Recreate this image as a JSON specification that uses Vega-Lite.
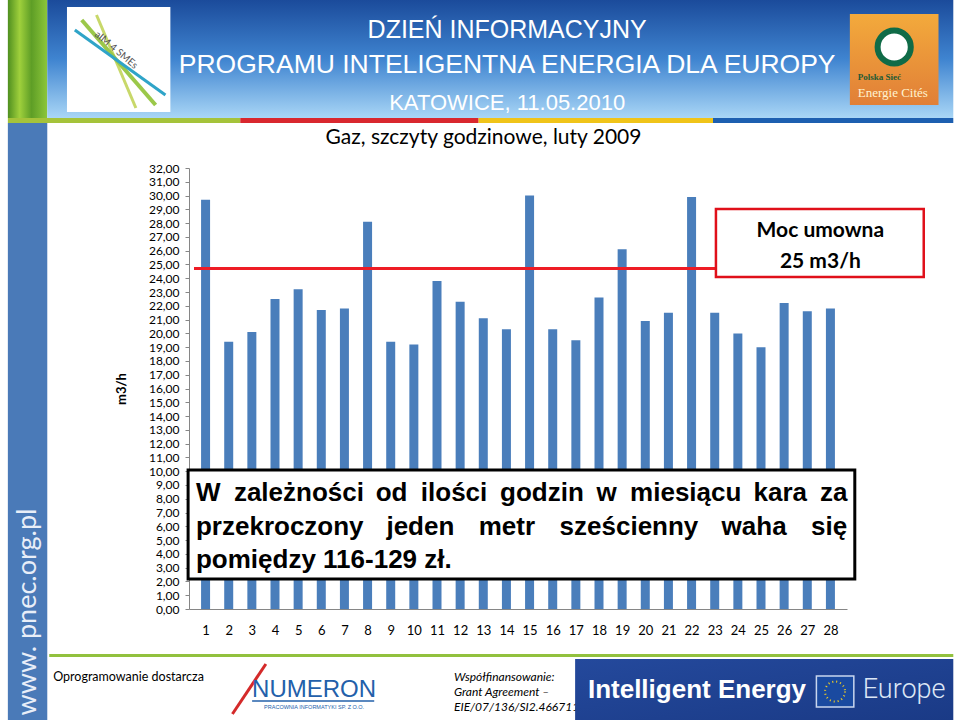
{
  "$schema": "https://vega.github.io/schema/vega-lite/v6.json",
  "width": 658,
  "height": 441,
  "autosize": {"type": "none"},
  "padding": {"left": 189, "top": 168, "right": 113, "bottom": 111},
  "background": "white",
  "config": {
    "view": {"stroke": null},
    "axis": {"labelFont": "Lato", "labelFontSize": 13, "labelColor": "#000000", "titleFont": "Lato", "titleColor": "#000000"}
  },
  "data": {"values": [{}]},
  "layer": [
    {"mark": {"type": "rect", "color": {"gradient": "linear", "x1": 0, "y1": 0, "x2": 1, "y2": 0, "stops": [{"offset": 0, "color": "#4f8f1f"}, {"offset": 0.3, "color": "#9fd03c"}, {"offset": 0.6, "color": "#5e9e26"}, {"offset": 1, "color": "#8cc63a"}]}},
     "encoding": {"x": {"datum": -7.543}, "x2": {"datum": -5.84}, "y": {"datum": 44.19}, "y2": {"datum": 35.628}}},
    {"mark": {"type": "rect", "color": "#4a7ab8"},
     "encoding": {"x": {"datum": -7.543}, "x2": {"datum": -5.84}, "y": {"datum": 35.265}, "y2": {"datum": -8.054}}},
    {"mark": {"type": "rect", "color": {"gradient": "linear", "x1": 0, "y1": 0, "x2": 0, "y2": 1, "stops": [{"offset": 0, "color": "#1b4b9b"}, {"offset": 0.5, "color": "#3f84d0"}, {"offset": 1, "color": "#a9d6f6"}]}},
     "encoding": {"x": {"datum": -5.84}, "x2": {"datum": 33.309}, "y": {"datum": 44.19}, "y2": {"datum": 35.628}}},
    {"mark": {"type": "rect", "color": "#a5c33a"},
     "encoding": {"x": {"datum": -7.543}, "x2": {"datum": 2.5}, "y": {"datum": 35.628}, "y2": {"datum": 35.265}}},
    {"mark": {"type": "rect", "color": "#d9272e"},
     "encoding": {"x": {"datum": 2.5}, "x2": {"datum": 12.798}, "y": {"datum": 35.628}, "y2": {"datum": 35.265}}},
    {"mark": {"type": "rect", "color": "#f0c419"},
     "encoding": {"x": {"datum": 12.798}, "x2": {"datum": 22.926}, "y": {"datum": 35.628}, "y2": {"datum": 35.265}}},
    {"mark": {"type": "rect", "color": "#1d5fb0"},
     "encoding": {"x": {"datum": 22.926}, "x2": {"datum": 33.309}, "y": {"datum": 35.628}, "y2": {"datum": 35.265}}},
    {"mark": {"type": "rect", "color": "#ffffff"},
     "encoding": {"x": {"datum": -4.989}, "x2": {"datum": -0.521}, "y": {"datum": 43.683}, "y2": {"datum": 36.063}}},
    {"mark": {"type": "rule", "color": "#c8d86a", "strokeWidth": 3},
     "encoding": {"x": {"datum": -3.713}, "x2": {"datum": -2.011}, "y": {"datum": 43.102}, "y2": {"datum": 36.354}}},
    {"mark": {"type": "rule", "color": "#9bc84a", "strokeWidth": 4},
     "encoding": {"x": {"datum": -4.351}, "x2": {"datum": -1.16}, "y": {"datum": 42.74}, "y2": {"datum": 36.571}}},
    {"mark": {"type": "rule", "color": "#2fa4c8", "strokeWidth": 3},
     "encoding": {"x": {"datum": -4.649}, "x2": {"datum": -0.734}, "y": {"datum": 42.014}, "y2": {"datum": 37.297}}},
    {"mark": {"type": "text", "text": "aIM 4 SMEs", "font": "Lato", "fontSize": 10, "color": "#555555", "angle": 40},
     "encoding": {"x": {"datum": -2.862}, "y": {"datum": 40.562}}},
    {"mark": {"type": "text", "text": "DZIEŃ INFORMACYJNY", "font": "Liberation Sans", "fontSize": 25, "color": "#ffffff"},
     "encoding": {"x": {"datum": 14.032}, "y": {"datum": 42.014}}},
    {"mark": {"type": "text", "text": "PROGRAMU INTELIGENTNA ENERGIA DLA EUROPY", "font": "Liberation Sans", "fontSize": 26.5, "color": "#ffffff"},
     "encoding": {"x": {"datum": 14.032}, "y": {"datum": 39.474}}},
    {"mark": {"type": "text", "text": "KATOWICE, 11.05.2010", "font": "Liberation Sans", "fontSize": 22, "color": "#ffffff"},
     "encoding": {"x": {"datum": 14.032}, "y": {"datum": 36.717}}},
    {"mark": {"type": "rect", "color": {"gradient": "linear", "x1": 0, "y1": 0, "x2": 0, "y2": 1, "stops": [{"offset": 0, "color": "#f3aa3c"}, {"offset": 1, "color": "#e17f37"}]}},
     "encoding": {"x": {"datum": 28.84}, "x2": {"datum": 32.67}, "y": {"datum": 43.175}, "y2": {"datum": 36.571}}},
    {"mark": {"type": "point", "shape": "circle", "filled": true, "fill": "#ffffff", "stroke": "#0f6b47", "strokeWidth": 6, "size": 1100, "opacity": 1},
     "encoding": {"x": {"datum": 30.755}, "y": {"datum": 40.78}}},
    {"mark": {"type": "text", "text": "Polska Sieć", "font": "Liberation Serif", "fontSize": 9, "fontWeight": "bold", "color": "#1d5b35", "align": "left"},
     "encoding": {"x": {"datum": 29.181}, "y": {"datum": 38.6}}},
    {"mark": {"type": "text", "text": "Energie Cités", "font": "Liberation Serif", "fontSize": 13, "color": "#fff3d0", "align": "left"},
     "encoding": {"x": {"datum": 29.181}, "y": {"datum": 37.45}}},
    {"mark": {"type": "text", "text": "Gaz, szczyty godzinowe, luty 2009", "font": "Lato", "fontSize": 21, "color": "#000000"},
     "encoding": {"x": {"datum": 13.011}, "y": {"datum": 34.177}}},
    {"data": {"values": [
      {"dzien": 1, "m3h": 29.7}, {"dzien": 2, "m3h": 19.4}, {"dzien": 3, "m3h": 20.1}, {"dzien": 4, "m3h": 22.5},
      {"dzien": 5, "m3h": 23.2}, {"dzien": 6, "m3h": 21.7}, {"dzien": 7, "m3h": 21.8}, {"dzien": 8, "m3h": 28.1},
      {"dzien": 9, "m3h": 19.4}, {"dzien": 10, "m3h": 19.2}, {"dzien": 11, "m3h": 23.8}, {"dzien": 12, "m3h": 22.3},
      {"dzien": 13, "m3h": 21.1}, {"dzien": 14, "m3h": 20.3}, {"dzien": 15, "m3h": 30.0}, {"dzien": 16, "m3h": 20.3},
      {"dzien": 17, "m3h": 19.5}, {"dzien": 18, "m3h": 22.6}, {"dzien": 19, "m3h": 26.1}, {"dzien": 20, "m3h": 20.9},
      {"dzien": 21, "m3h": 21.5}, {"dzien": 22, "m3h": 29.9}, {"dzien": 23, "m3h": 21.5}, {"dzien": 24, "m3h": 20.0},
      {"dzien": 25, "m3h": 19.0}, {"dzien": 26, "m3h": 22.2}, {"dzien": 27, "m3h": 21.6}, {"dzien": 28, "m3h": 21.8}
     ]},
     "mark": {"type": "bar", "size": 9, "color": "#4a7ebb"},
     "encoding": {
       "x": {"field": "dzien", "type": "quantitative",
             "scale": {"domain": [0.5, 28.5], "nice": false, "zero": false},
             "axis": {"title": null, "values": [1,2,3,4,5,6,7,8,9,10,11,12,13,14,15,16,17,18,19,20,21,22,23,24,25,26,27,28], "tickCount": 60, "format": "d", "grid": false, "ticks": false, "labelPadding": 15, "domainColor": "#868686", "labelFlush": false, "labelOverlap": false}},
       "y": {"field": "m3h", "type": "quantitative",
             "scale": {"domain": [0, 32], "nice": false},
             "axis": {"title": "m3/h", "titleFontWeight": "bold", "titleFontSize": 13, "titlePadding": 20,
                      "values": [0,1,2,3,4,5,6,7,8,9,10,11,12,13,14,15,16,17,18,19,20,21,22,23,24,25,26,27,28,29,30,31,32],
                      "tickCount": 60, "labelFontSize": 12,
                      "labelExpr": "replace(format(datum.value, '.2f'), '.', ',')",
                      "gridColor": "#a6a6a6", "tickColor": "#868686", "tickSize": 4, "labelPadding": 6, "domainColor": "#868686", "labelFlush": false, "labelOverlap": false}}
     }},
    {"mark": {"type": "rule", "color": "#ee1c25", "strokeWidth": 3},
     "encoding": {"x": {"datum": 0.5}, "x2": {"datum": 23.181}, "y": {"datum": 24.7}}},
    {"mark": {"type": "rect", "fill": "#ffffff", "stroke": "#e0101a", "strokeWidth": 2.5},
     "encoding": {"x": {"datum": 23.053}, "x2": {"datum": 32.032}, "y": {"datum": 29.025}, "y2": {"datum": 24.091}}},
    {"mark": {"type": "text", "text": "Moc umowna", "font": "Lato", "fontSize": 21, "fontWeight": "bold", "color": "#000000"},
     "encoding": {"x": {"datum": 27.564}, "y": {"datum": 27.429}}},
    {"mark": {"type": "text", "text": "25 m3/h", "font": "Lato", "fontSize": 21, "fontWeight": "bold", "color": "#000000"},
     "encoding": {"x": {"datum": 27.564}, "y": {"datum": 25.179}}},
    {"mark": {"type": "rect", "fill": "#ffffff", "stroke": "#000000", "strokeWidth": 3},
     "encoding": {"x": {"datum": 0.245}, "x2": {"datum": 29.053}, "y": {"datum": 10.086}, "y2": {"datum": 2.177}}},
    {"mark": {"type": "text", "text": "W", "font": "Liberation Sans", "fontSize": 26, "fontWeight": "bold", "align": "left", "color": "#000000"}, "encoding": {"x": {"datum": 0.585}, "y": {"datum": 8.417}}},
    {"mark": {"type": "text", "text": "zależności", "font": "Liberation Sans", "fontSize": 26, "fontWeight": "bold", "align": "left", "color": "#000000"}, "encoding": {"x": {"datum": 2.223}, "y": {"datum": 8.417}}},
    {"mark": {"type": "text", "text": "od", "font": "Liberation Sans", "fontSize": 26, "fontWeight": "bold", "align": "left", "color": "#000000"}, "encoding": {"x": {"datum": 8.351}, "y": {"datum": 8.417}}},
    {"mark": {"type": "text", "text": "ilości", "font": "Liberation Sans", "fontSize": 26, "fontWeight": "bold", "align": "left", "color": "#000000"}, "encoding": {"x": {"datum": 10.3}, "y": {"datum": 8.417}}},
    {"mark": {"type": "text", "text": "godzin", "font": "Liberation Sans", "fontSize": 26, "fontWeight": "bold", "align": "left", "color": "#000000"}, "encoding": {"x": {"datum": 13.726}, "y": {"datum": 8.417}}},
    {"mark": {"type": "text", "text": "w", "font": "Liberation Sans", "fontSize": 26, "fontWeight": "bold", "align": "left", "color": "#000000"}, "encoding": {"x": {"datum": 17.887}, "y": {"datum": 8.417}}},
    {"mark": {"type": "text", "text": "miesiącu", "font": "Liberation Sans", "fontSize": 26, "fontWeight": "bold", "align": "left", "color": "#000000"}, "encoding": {"x": {"datum": 19.343}, "y": {"datum": 8.417}}},
    {"mark": {"type": "text", "text": "kara", "font": "Liberation Sans", "fontSize": 26, "fontWeight": "bold", "align": "left", "color": "#000000"}, "encoding": {"x": {"datum": 24.674}, "y": {"datum": 8.417}}},
    {"mark": {"type": "text", "text": "za", "font": "Liberation Sans", "fontSize": 26, "fontWeight": "bold", "align": "left", "color": "#000000"}, "encoding": {"x": {"datum": 27.547}, "y": {"datum": 8.417}}},
    {"mark": {"type": "text", "text": "przekroczony", "font": "Liberation Sans", "fontSize": 26, "fontWeight": "bold", "align": "left", "color": "#000000"}, "encoding": {"x": {"datum": 0.585}, "y": {"datum": 5.95}}},
    {"mark": {"type": "text", "text": "jeden", "font": "Liberation Sans", "fontSize": 26, "fontWeight": "bold", "align": "left", "color": "#000000"}, "encoding": {"x": {"datum": 8.815}, "y": {"datum": 5.95}}},
    {"mark": {"type": "text", "text": "metr", "font": "Liberation Sans", "fontSize": 26, "fontWeight": "bold", "align": "left", "color": "#000000"}, "encoding": {"x": {"datum": 12.802}, "y": {"datum": 5.95}}},
    {"mark": {"type": "text", "text": "sześcienny", "font": "Liberation Sans", "fontSize": 26, "fontWeight": "bold", "align": "left", "color": "#000000"}, "encoding": {"x": {"datum": 16.296}, "y": {"datum": 5.95}}},
    {"mark": {"type": "text", "text": "waha", "font": "Liberation Sans", "fontSize": 26, "fontWeight": "bold", "align": "left", "color": "#000000"}, "encoding": {"x": {"datum": 23.296}, "y": {"datum": 5.95}}},
    {"mark": {"type": "text", "text": "się", "font": "Liberation Sans", "fontSize": 26, "fontWeight": "bold", "align": "left", "color": "#000000"}, "encoding": {"x": {"datum": 27.16}, "y": {"datum": 5.95}}},
    {"mark": {"type": "text", "text": "pomiędzy 116-129 zł.", "font": "Liberation Sans", "fontSize": 26, "fontWeight": "bold", "align": "left", "color": "#000000"}, "encoding": {"x": {"datum": 0.585}, "y": {"datum": 3.556}}},
    {"mark": {"type": "text", "text": "www. pnec.org.pl", "font": "Lato", "fontSize": 27, "color": "#e8eef8", "angle": 270},
     "encoding": {"x": {"datum": -6.691}, "y": {"datum": -0.218}}},
    {"mark": {"type": "rect", "color": "#92c13e"},
     "encoding": {"x": {"datum": -5.755}, "x2": {"datum": 33.309}, "y": {"datum": -3.265}, "y2": {"datum": -3.483}}},
    {"mark": {"type": "text", "text": "Oprogramowanie dostarcza", "font": "Lato", "fontSize": 12.5, "align": "left", "color": "#000000"},
     "encoding": {"x": {"datum": -5.585}, "y": {"datum": -4.934}}},
    {"mark": {"type": "rule", "color": "#d42a2a", "strokeWidth": 3},
     "encoding": {"x": {"datum": 2.16}, "x2": {"datum": 3.606}, "y": {"datum": -7.62}, "y2": {"datum": -3.99}}},
    {"mark": {"type": "text", "text": "NUMERON", "font": "Liberation Sans", "fontSize": 24, "align": "left", "color": "#2360aa"},
     "encoding": {"x": {"datum": 3.011}, "y": {"datum": -5.878}}},
    {"mark": {"type": "rule", "color": "#2360aa", "strokeWidth": 1.5},
     "encoding": {"x": {"datum": 3.011}, "x2": {"datum": 8.287}, "y": {"datum": -6.676}}},
    {"mark": {"type": "text", "text": "PRACOWNIA INFORMATYKI SP. Z O.O.", "font": "Liberation Sans", "fontSize": 5.5, "color": "#2360aa"},
     "encoding": {"x": {"datum": 5.691}, "y": {"datum": -7.111}}},
    {"mark": {"type": "text", "text": "Współfinansowanie:", "font": "Lato", "fontSize": 12, "fontStyle": "italic", "align": "left", "color": "#000000"},
     "encoding": {"x": {"datum": 11.734}, "y": {"datum": -4.934}}},
    {"mark": {"type": "text", "text": "Grant Agreement –", "font": "Lato", "fontSize": 12, "fontStyle": "italic", "align": "left", "color": "#000000"},
     "encoding": {"x": {"datum": 11.734}, "y": {"datum": -6.023}}},
    {"mark": {"type": "text", "text": "EIE/07/136/SI2.466711", "font": "Lato", "fontSize": 12, "fontStyle": "italic", "align": "left", "color": "#000000"},
     "encoding": {"x": {"datum": 11.734}, "y": {"datum": -7.111}}},
    {"mark": {"type": "rect", "color": {"gradient": "linear", "x1": 0, "y1": 0, "x2": 1, "y2": 1, "stops": [{"offset": 0, "color": "#24499c"}, {"offset": 1, "color": "#1a3a86"}]}},
     "encoding": {"x": {"datum": 16.968}, "x2": {"datum": 33.309}, "y": {"datum": -3.628}, "y2": {"datum": -8.054}}},
    {"mark": {"type": "text", "text": "Intelligent Energy", "font": "Liberation Sans", "fontSize": 26, "fontWeight": "bold", "align": "left", "color": "#ffffff"},
     "encoding": {"x": {"datum": 17.521}, "y": {"datum": -5.878}}},
    {"mark": {"type": "rect", "fill": "#1a4aa0", "stroke": "#c9d6ee", "strokeWidth": 1.5},
     "encoding": {"x": {"datum": 27.394}, "x2": {"datum": 29.011}, "y": {"datum": -4.862}, "y2": {"datum": -7.111}}},
    {"mark": {"type": "point", "shape": "circle", "filled": false, "stroke": "#f5d020", "strokeWidth": 2, "strokeDash": [1, 3], "size": 400, "opacity": 1},
     "encoding": {"x": {"datum": 28.2}, "y": {"datum": -5.99}}},
    {"mark": {"type": "text", "text": "Europe", "font": "Roboto", "fontWeight": 300, "fontSize": 27, "align": "left", "color": "#dce6f5"},
     "encoding": {"x": {"datum": 29.394}, "y": {"datum": -5.878}}}
  ]
}
